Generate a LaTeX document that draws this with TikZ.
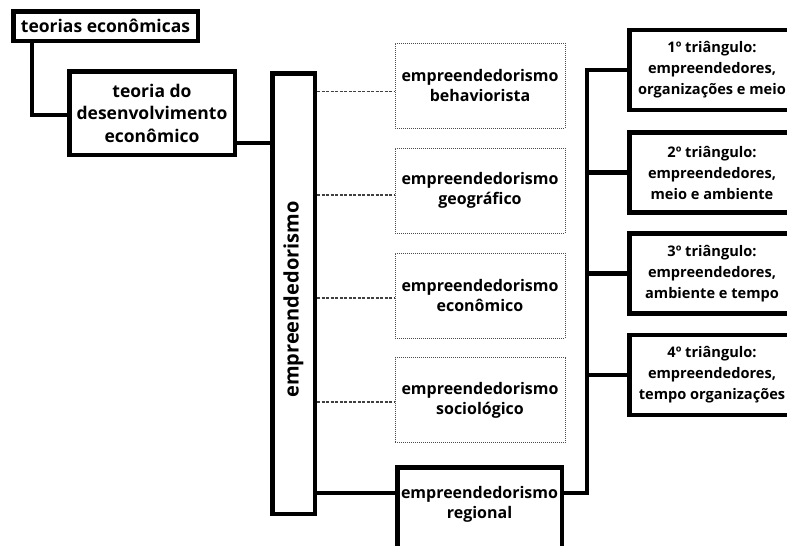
\documentclass[tikz,border=0pt]{standalone}
\usepackage{fontspec}
\setmainfont{Open Sans}
\begin{document}
\begin{tikzpicture}[x=1pt,y=-1pt,
  thickbox/.style={draw=black,line width=4.5pt,inner sep=0pt,align=center,font=\fontsize{16}{20}\selectfont\bfseries},
  dotbox/.style={draw=black!70,line width=1pt,densely dotted,inner sep=0pt,align=center,minimum width=170,minimum height=85,font=\fontsize{16}{20}\selectfont\bfseries},
  thickline/.style={line width=4.5pt,line join=miter},
  dashline/.style={line width=1.3pt,black!75,dash pattern=on 3pt off 1.5pt},
  tribox/.style={thickbox,minimum width=165.5,minimum height=80,font=\fontsize{14.6}{21}\selectfont\bfseries},
  txt/.style={inner sep=0pt,align=center,font=\fontsize{16}{20}\selectfont\bfseries}
]
\useasboundingbox (0,0) rectangle (787,546);
\begin{scope}
\clip (0,0) rectangle (787,546);
% left nodes
\node[thickbox,minimum width=184.5,minimum height=29.5,font=\fontsize{17.5}{22}\selectfont\bfseries] (teo) at (105.5,26) {teorias econômicas};
\node[thickbox,minimum width=165.5,minimum height=83.5,font=\fontsize{17.5}{22.5}\selectfont\bfseries] (tde) at (152,113) {teoria do\\desenvolvimento\\econômico};
\node[thickbox,minimum width=440.5,minimum height=42.5,rotate=90,font=\fontsize{20}{22}\selectfont\bfseries] (emp) at (293.5,293.5) {empreendedorismo\hspace*{12pt}};
% dotted boxes
\node[dotbox] (d1) at (480,85.5) {empreendedorismo\\behaviorista};
\node[dotbox] (d2) at (480,190.5) {empreendedorismo\\geográfico};
\node[dotbox] (d3) at (480,295.5) {empreendedorismo\\econômico};
\node[dotbox] (d4) at (480,400) {empreendedorismo\\sociológico};
% regional
\node[thickbox,minimum width=164.5,minimum height=120,anchor=north] (reg) at (479.5,465.25) {};
\node[txt] (regt) at (479.5,504) {empreendedorismo\\regional};
% triangles
\node[tribox] (t1) at (712,70) {1º triângulo:\\empreendedores,\hspace*{8pt}\\organizações e meio};
\node[tribox] (t2) at (712,172.5) {2º triângulo:\\empreendedores,\hspace*{8pt}\\meio e ambiente};
\node[tribox] (t3) at (712,273.5) {3º triângulo:\\empreendedores,\hspace*{8pt}\\ambiente e tempo};
\node[tribox] (t4) at (712,375) {4º triângulo:\\empreendedores,\hspace*{8pt}\\tempo organizações};
% helper coordinates
\coordinate (ax) at (32,0);
\coordinate (by) at (0,115);
\coordinate (ey) at (0,143);
\coordinate (ry) at (0,493);
\coordinate (tr) at (587,0);
% connectors
\draw[thickline] (teo.south -| ax) |- (tde.west |- by);
\draw[thickline] (tde.east |- ey) -- (emp.north |- ey);
\draw[thickline] (emp.south |- ry) -- (reg.west |- ry);
\draw[thickline] (reg.east |- ry) -| (tr |- t1.west) -- (t1.west);
\draw[thickline] (tr |- t2.west) -- (t2.west);
\draw[thickline] (tr |- t3.west) -- (t3.west);
\draw[thickline] (tr |- t4.west) -- (t4.west);
\draw[dashline] ([yshift=-6pt]d1.west -| emp.south) -- ([yshift=-6pt]d1.west);
\draw[dashline] ([yshift=-4.5pt]d2.west -| emp.south) -- ([yshift=-4.5pt]d2.west);
\draw[dashline] ([yshift=-2.5pt]d3.west -| emp.south) -- ([yshift=-2.5pt]d3.west);
\draw[dashline] ([yshift=-2pt]d4.west -| emp.south) -- ([yshift=-2pt]d4.west);
\end{scope}
\end{tikzpicture}
\end{document}
